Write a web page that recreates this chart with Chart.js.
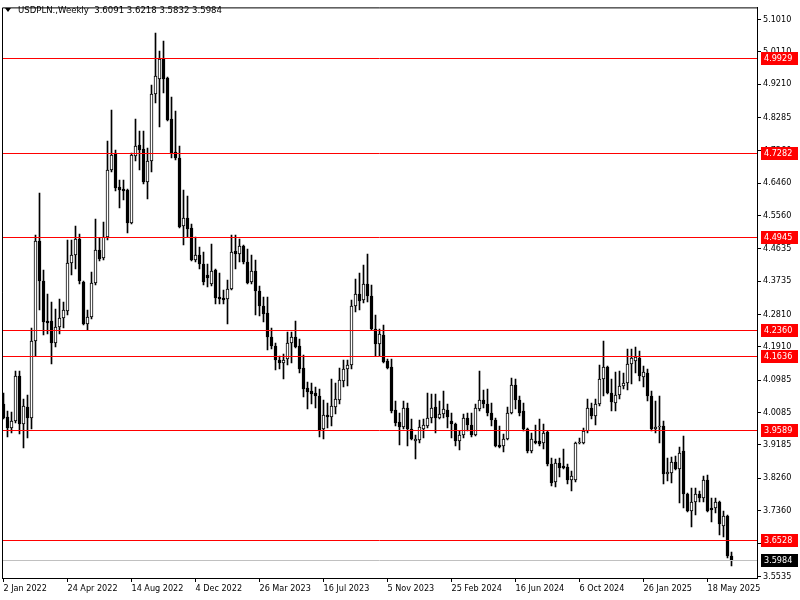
<!DOCTYPE html>
<html>
<head>
<meta charset="utf-8">
<title>USDPLN Weekly</title>
<script src="https://cdn.jsdelivr.net/npm/chart.js@4.4.1/dist/chart.umd.min.js"></script>
<style>
  html, body { margin: 0; padding: 0; background: #fff; }
  #wrap { width: 800px; height: 600px; }
</style>
</head>
<body>
<div id="wrap"><canvas id="chart" width="800" height="600"></canvas></div>
<script>
// time axis labels, one every 16 weekly bars (first bar = 2 Jan 2022)
const dateLabels = ['2 Jan 2022', '24 Apr 2022', '14 Aug 2022', '4 Dec 2022', '26 Mar 2023', '16 Jul 2023',
    '5 Nov 2023', '25 Feb 2024', '16 Jun 2024', '6 Oct 2024', '26 Jan 2025', '18 May 2025'];
const labelEvery = 16;

// weekly OHLC
const opens = [
    4.0320, 3.9960, 3.9657, 3.9850, 4.1093, 3.9767, 4.0236, 3.9933, 4.2060, 4.4850,
    4.3745, 4.2640, 4.2640, 4.2005, 4.2474, 4.2723, 4.2916, 4.4242, 4.4463, 4.4905,
    4.3717, 4.2557, 4.2750, 4.3690, 4.4601, 4.4380, 4.4960, 4.6811, 4.7281, 4.6342,
    4.6286, 4.6259, 4.5347, 4.7225, 4.7529, 4.7419, 4.6480, 4.7060, 4.8938, 4.9353,
    4.9905, 4.9380, 4.8248, 4.7336, 4.7143, 4.5264, 4.5485, 4.5209, 4.4325, 4.4463,
    4.4214, 4.3911, 4.3662, 4.4049, 4.3303, 4.3275, 4.3248, 4.3524, 4.4574, 4.4491,
    4.4712, 4.4270, 4.3717, 4.4021, 4.3469, 4.3054, 4.2861, 4.2170, 4.1922, 4.1535,
    4.1452, 4.1563, 4.2005, 4.2170, 4.1922, 4.1314, 4.0762, 4.0679, 4.0623, 4.0541,
    3.9629, 4.0015, 3.9960, 4.0236, 4.0430, 4.0955, 4.1286, 4.1397, 4.3054, 4.3386,
    4.3220, 4.3662, 4.3331, 4.2391, 4.1977, 4.2226, 4.1507, 4.1342, 4.0154, 3.9822,
    3.9684, 4.0209, 3.9629, 3.9297, 3.9325, 3.9629, 3.9712, 3.9933, 4.0236, 3.9933,
    4.0043, 4.0154, 3.9850, 3.9767, 3.9297, 3.9463, 3.9933, 3.9739, 3.9463, 4.0181,
    4.0430, 4.0320, 4.0071, 3.9878, 3.9187, 3.9159, 3.9353, 4.0071, 4.0844, 4.0430,
    4.0126, 3.9629, 3.9021, 3.9297, 3.9297, 3.9242, 3.9546, 3.8662, 3.8165, 3.8690,
    3.8607, 3.8579, 3.8220, 3.8220, 3.9242, 3.9242, 3.9574, 4.0209, 3.9988, 4.0320,
    4.1010, 4.1342, 4.0623, 4.0347, 4.0568, 4.0817, 4.0900, 4.1425, 4.1507, 4.1590,
    4.1065, 4.1176, 4.0541, 3.9629, 3.9684, 3.9712, 3.8386, 3.8414, 3.8717, 3.8524,
    3.9021, 3.7833, 3.7336, 3.7585, 3.7806, 3.7695, 3.8220, 3.7419, 3.7419, 3.7585,
    3.6922, 3.7198, 3.6091
];
const highs = [
    4.0623, 4.0126, 4.0099, 4.1231, 4.1231, 4.0458, 4.0568, 4.2419, 4.5016, 4.6176,
    4.4049, 4.3386, 4.3165, 4.2971, 4.3248, 4.3165, 4.4878, 4.4878, 4.5264, 4.5043,
    4.3745, 4.2944, 4.3994, 4.5458, 4.4933, 4.5375, 4.7640, 4.8496, 4.7391, 4.6535,
    4.6535, 4.6286, 4.7308, 4.8248, 4.7916, 4.7916, 4.7447, 4.9187, 5.0623, 5.0126,
    5.0402, 4.9408, 4.8855, 4.8469, 4.7502, 4.6259, 4.6093, 4.5320, 4.4960, 4.4684,
    4.4546, 4.4214, 4.4767, 4.4076, 4.3966, 4.3496, 4.3772, 4.5016, 4.5016, 4.4905,
    4.4739, 4.4629, 4.4463, 4.4325, 4.3607, 4.3303, 4.3303, 4.2419, 4.2005, 4.1646,
    4.1701, 4.2308, 4.2308, 4.2640, 4.2115, 4.1673, 4.0927, 4.0900, 4.0789, 4.0734,
    4.0430, 4.0347, 4.1010, 4.0899, 4.1314, 4.1535, 4.1535, 4.3220, 4.3801, 4.3966,
    4.4187, 4.4491, 4.3634, 4.2806, 4.2391, 4.2529, 4.1563, 4.1563, 4.0402, 4.0071,
    4.0402, 4.0347, 3.9905, 3.9463, 3.9878, 3.9905, 4.0623, 4.0596, 4.0596, 4.0402,
    4.0679, 4.0320, 4.0071, 3.9795, 3.9574, 4.0043, 4.0071, 4.0071, 4.0320, 4.1231,
    4.0706, 4.0734, 4.0347, 3.9933, 3.9712, 3.9491, 4.0236, 4.1038, 4.1010, 4.0541,
    4.0347, 3.9657, 3.9518, 3.9739, 3.9905, 3.9767, 3.9574, 3.8828, 3.8800, 3.8828,
    3.9077, 3.8662, 3.8469, 3.9270, 3.9380, 3.9657, 4.0458, 4.0347, 4.0458, 4.1397,
    4.2060, 4.1369, 4.1010, 4.1203, 4.1231, 4.1176, 4.1839, 4.1839, 4.1894, 4.1784,
    4.1369, 4.1286, 4.0679, 4.0402, 4.0541, 3.9850, 3.8828, 3.8855, 3.8883, 3.9132,
    3.9435, 3.7860, 3.7999, 3.7999, 3.7916, 3.8331, 3.8358, 3.7695, 3.7695, 3.7612,
    3.7336, 3.7226, 3.6218
];
const lows = [
    3.9905, 3.9408, 3.9518, 3.9795, 3.9491, 3.9104, 3.9380, 3.9629, 4.1646, 4.2944,
    4.2226, 4.2253, 4.1424, 4.1894, 4.2253, 4.2446, 4.2806, 4.3911, 4.4076, 4.3662,
    4.2529, 4.2364, 4.2695, 4.3634, 4.4297, 4.4325, 4.4878, 4.6756, 4.6231, 4.5762,
    4.5982, 4.5071, 4.5320, 4.7060, 4.6811, 4.6424, 4.6010, 4.6756, 4.8690, 4.8027,
    4.8966, 4.8192, 4.7170, 4.7115, 4.5209, 4.4739, 4.4960, 4.4297, 4.4270, 4.4076,
    4.3634, 4.3579, 4.3607, 4.3110, 4.3110, 4.3110, 4.2557, 4.3496, 4.4076, 4.4270,
    4.4214, 4.3662, 4.3662, 4.2806, 4.2778, 4.2612, 4.1811, 4.1839, 4.1259, 4.1286,
    4.1010, 4.1397, 4.1452, 4.1866, 4.1176, 4.0513, 4.0181, 4.0320, 4.0209, 3.9408,
    3.9353, 3.9657, 3.9712, 4.0043, 4.0320, 4.0789, 4.0817, 4.1286, 4.2889, 4.2944,
    4.3138, 4.3165, 4.2364, 4.1646, 4.1646, 4.1452, 4.1286, 4.0071, 3.9712, 3.9187,
    3.9629, 3.9159, 3.9325, 3.8800, 3.9242, 3.9380, 3.9657, 3.9795, 3.9518, 3.9905,
    3.9933, 3.9657, 3.9380, 3.9159, 3.9049, 3.9380, 3.9574, 3.9408, 3.9435, 4.0126,
    4.0209, 3.9988, 3.9712, 3.9132, 3.9104, 3.8994, 3.9325, 4.0043, 4.0181, 3.9988,
    3.9574, 3.8966, 3.8966, 3.9214, 3.9159, 3.9077, 3.8607, 3.8054, 3.8027, 3.8303,
    3.8510, 3.8110, 3.7916, 3.8165, 3.9214, 3.9214, 3.9518, 3.9905, 3.9739, 4.0264,
    4.0541, 4.0596, 4.0126, 4.0126, 4.0458, 4.0734, 4.0706, 4.0872, 4.1176, 4.0955,
    4.0789, 4.0402, 3.9573, 3.9518, 3.9242, 3.8110, 3.8193, 3.8137, 3.8496, 3.7557,
    3.7419, 3.7309, 3.6894, 3.7226, 3.7585, 3.7585, 3.7309, 3.7032, 3.7281, 3.6673,
    3.6618, 3.6038, 3.5832
];
const closes = [
    3.9933, 3.9657, 3.9850, 4.1093, 3.9767, 4.0264, 3.9933, 4.2060, 4.4850, 4.3745,
    4.2612, 4.2585, 4.2005, 4.2474, 4.2723, 4.2944, 4.4242, 4.4463, 4.4905, 4.3745,
    4.2557, 4.2750, 4.3690, 4.4601, 4.4353, 4.4960, 4.6811, 4.7253, 4.6314, 4.6259,
    4.6231, 4.5347, 4.7253, 4.7502, 4.7391, 4.6480, 4.7060, 4.8938, 4.9435, 4.9905,
    4.9353, 4.8220, 4.7308, 4.7143, 4.5237, 4.5485, 4.5181, 4.4325, 4.4463, 4.4214,
    4.3717, 4.3828, 4.4021, 4.3275, 4.3248, 4.3220, 4.3524, 4.4546, 4.4491, 4.4712,
    4.4270, 4.3690, 4.4021, 4.3469, 4.3054, 4.2834, 4.2170, 4.1922, 4.1535, 4.1452,
    4.1535, 4.2005, 4.2170, 4.1894, 4.1286, 4.0734, 4.0651, 4.0596, 4.0541, 3.9601,
    4.0015, 3.9960, 4.0264, 4.0458, 4.0982, 4.1286, 4.1397, 4.3054, 4.3386, 4.3193,
    4.3662, 4.3331, 4.2391, 4.1977, 4.2253, 4.1480, 4.1314, 4.0126, 3.9795, 3.9684,
    4.0209, 3.9629, 3.9353, 3.9353, 3.9684, 3.9739, 3.9933, 4.0209, 3.9933, 4.0043,
    4.0181, 3.9960, 3.9767, 3.9297, 3.9463, 3.9933, 3.9739, 3.9463, 4.0209, 4.0430,
    4.0320, 4.0071, 3.9878, 3.9159, 3.9132, 3.9353, 4.0071, 4.0844, 4.0430, 4.0071,
    3.9629, 3.9021, 3.9353, 3.9242, 3.9214, 3.9518, 3.8662, 3.8137, 3.8690, 3.8552,
    3.8538, 3.8220, 3.8331, 3.9242, 3.9270, 3.9574, 4.0209, 3.9988, 4.0320, 4.1010,
    4.1342, 4.0623, 4.0375, 4.0568, 4.0817, 4.0900, 4.1425, 4.1590, 4.1618, 4.1093,
    4.1203, 4.0541, 3.9629, 3.9684, 3.9712, 3.8386, 3.8441, 3.8717, 3.8524, 3.8966,
    3.7833, 3.7336, 3.7585, 3.7806, 3.7695, 3.8220, 3.7336, 3.7364, 3.7585, 3.6977,
    3.7198, 3.6093, 3.5984
];

// horizontal levels (red) and the last price line
const levels = [4.9929, 4.7282, 4.4945, 4.2360, 4.1636, 3.9589, 3.6528];
const lastPrice = 3.5984;

// price scale tick labels
const priceTicks = [5.1010, 5.0110, 4.9210, 4.8285, 4.7360, 4.6460, 4.5560, 4.4635, 4.3735,
    4.2810, 4.1910, 4.0985, 4.0085, 3.9185, 3.8260, 3.7360, 3.6435, 3.5535];

const X_MIN = -0.375;
const X_MAX = 188.375;
const FONT = { family: '"DejaVu Sans Condensed", "Liberation Sans", Arial, sans-serif', size: 9 };

function hLine(value, color) {
    return {
        type: 'line',
        data: [{ x: X_MIN, y: value }, { x: X_MAX, y: value }],
        borderColor: color,
        backgroundColor: color,
        borderWidth: 1,
        pointRadius: 0,
        fill: false,
        order: 0
    };
}

// keep 1px lines and candle edges on whole pixels, like the terminal does
const pixelSnap = {
    id: 'pixelSnap',
    afterDatasetsUpdate(chart) {
        chart.data.datasets.forEach((ds, di) => {
            const meta = chart.getDatasetMeta(di);
            if (meta.type === 'line') {
                meta.data.forEach(pt => { pt.y = Math.floor(pt.y) + 0.5; });
                return;
            }
            meta.data.forEach(bar => {
                const top = Math.round(Math.min(bar.y, bar.base));
                let bottom = Math.round(Math.max(bar.y, bar.base));
                if (bottom - top < 1) bottom = top + 1;
                bar.x = Math.round(bar.x - 0.5) + 0.5;
                bar.y = top;
                bar.base = bottom;
            });
        });
    }
};

// frame, price tags and the title line
const mtDecor = {
    id: 'mtDecor',
    beforeDraw(chart) {
        const ctx = chart.ctx;
        ctx.save();
        ctx.fillStyle = '#fff';
        ctx.fillRect(0, 0, chart.width, chart.height);
        ctx.restore();
    },
    afterDraw(chart) {
        const { ctx, chartArea: a } = chart;
        const y = chart.scales.y;
        ctx.save();
        ctx.strokeStyle = '#000';
        ctx.lineWidth = 1;
        ctx.beginPath();
        ctx.moveTo(a.left + 0.5, a.bottom);
        ctx.lineTo(a.left + 0.5, a.top + 0.5);
        ctx.lineTo(a.right, a.top + 0.5);
        ctx.stroke();

        ctx.font = FONT.size + 'px ' + FONT.family;
        ctx.textBaseline = 'middle';
        ctx.textAlign = 'left';
        const tag = (v, bg) => {
            const py = Math.floor(y.getPixelForValue(v));
            ctx.fillStyle = bg;
            ctx.fillRect(a.right + 4, py - 6, 37, 13);
            ctx.fillStyle = '#fff';
            ctx.fillText(v.toFixed(4), a.right + 7, py + 1);
        };
        levels.forEach(v => tag(v, '#ff0000'));
        tag(lastPrice, '#000');

        // title
        const n = opens.length - 1;
        ctx.fillStyle = '#000';
        ctx.beginPath();
        ctx.moveTo(5, 8);
        ctx.lineTo(11, 8);
        ctx.lineTo(8, 12);
        ctx.closePath();
        ctx.fill();
        ctx.font = '9.5px ' + FONT.family;
        ctx.fillText('USDPLN.,Weekly  ' + [opens[n], highs[n], lows[n], closes[n]].map(v => v.toFixed(4)).join(' '), 18, 10.5);
        ctx.restore();
    }
};

const wickData = opens.map((o, i) => ({ x: i, y: [lows[i], highs[i]] }));
const bodyData = opens.map((o, i) => ({ x: i, y: [o, closes[i]] }));

new Chart(document.getElementById('chart'), {
    type: 'bar',
    data: {
        datasets: [
            ...levels.map(v => hLine(v, '#ff0000')),
            hLine(lastPrice, '#c0c0c0'),
            {
                data: bodyData,
                backgroundColor: opens.map((o, i) => closes[i] >= o ? '#ffffff' : '#000000'),
                borderColor: '#000',
                borderWidth: 1,
                borderSkipped: false,
                barThickness: 3,
                grouped: false,
                order: 1
            },
            {
                data: wickData,
                backgroundColor: '#000',
                borderWidth: 0,
                barThickness: 1,
                grouped: false,
                order: 2
            }
        ]
    },
    options: {
        responsive: false,
        animation: false,
        events: [],
        layout: { padding: { left: 2, top: 4, right: 0, bottom: 0 } },
        plugins: { legend: { display: false }, tooltip: { enabled: false } },
        scales: {
            x: {
                type: 'linear',
                offset: false,
                min: X_MIN,
                max: X_MAX,
                afterBuildTicks: s => { s.ticks = dateLabels.map((d, k) => ({ value: k * labelEvery })); },
                afterFit: s => { s.height = 22; },
                ticks: {
                    autoSkip: false,
                    maxRotation: 0,
                    align: 'start',
                    padding: 1,
                    color: '#000',
                    font: FONT,
                    callback: v => dateLabels[Math.round(v / labelEvery)]
                },
                grid: { offset: false, drawOnChartArea: false, tickLength: 4, color: '#000' },
                border: { color: '#000' }
            },
            y: {
                position: 'right',
                min: 3.5485,
                max: 5.1342,
                afterBuildTicks: s => { s.ticks = priceTicks.map(v => ({ value: v })); },
                afterFit: s => { s.width = 43; },
                ticks: {
                    padding: 2,
                    color: '#000',
                    font: FONT,
                    callback: v => v.toFixed(4)
                },
                grid: { drawOnChartArea: false, tickLength: 4, color: '#000' },
                border: { color: '#000' }
            }
        }
    },
    plugins: [pixelSnap, mtDecor]
});
</script>
</body>
</html>
